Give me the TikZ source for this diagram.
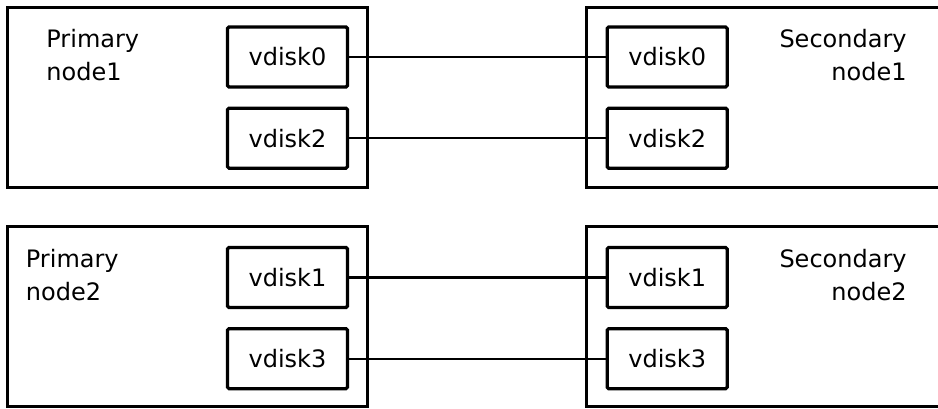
\documentclass[tikz,border=0pt]{standalone}
\usepackage{fontspec}
\setmainfont{DejaVu Sans}
\usetikzlibrary{positioning}

\begin{document}
\begin{tikzpicture}[x=0.5pt, y=-0.5pt, node distance=9pt,
    font=\fontsize{12pt}{16.5pt}\selectfont,
    host/.style={draw, line width=1.6pt, minimum width=180pt, minimum height=90pt, inner sep=0pt},
    vdisk/.style={draw, line width=1.6pt, rounded corners=0.75pt, minimum width=60pt, minimum height=30pt, inner sep=0pt},
    hostname/.style={inner sep=0pt},
    link/.style={line width=1.2pt}]
  \useasboundingbox (0,0) rectangle (938,408);
  \clip (0,0) rectangle (938,408);

  % hosts
  \node[host] (prim1) at (187.5,97.25) {};
  \node[host, below=18pt of prim1] (prim2) {};
  \node[host, right=108pt of prim1] (sec1) {};
  \node[host, below=18pt of sec1] (sec2) {};

  \node[hostname, anchor=north west, align=left] (prim1name) at (46,28.5) {Primary\\node1};
  \node[hostname, anchor=north west, align=left] (prim2name) at (25.5,249) {Primary\\node2};
  \node[hostname, anchor=north east, align=right] (sec1name) at (907,28.5) {Secondary\\node1};
  \node[hostname, anchor=north east, align=right] (sec2name) at (907,249) {Secondary\\node2};

  % disks
  \node[vdisk] (p1d0) at (287.5,57) {vdisk0};
  \node[vdisk, below=of p1d0] (p1d2) {vdisk2};
  \node[vdisk, right=128.25pt of p1d0] (s1d0) {vdisk0};
  \node[vdisk, below=of s1d0] (s1d2) {vdisk2};
  \node[vdisk] (p2d1) at (287.5,277.5) {vdisk1};
  \node[vdisk, below=of p2d1] (p2d3) {vdisk3};
  \node[vdisk, right=128.25pt of p2d1] (s2d1) {vdisk1};
  \node[vdisk, below=of s2d1] (s2d3) {vdisk3};

  \draw[link] (p1d0) -- (s1d0);
  \draw[link] (p1d2) -- (s1d2);
  \draw[link] (p2d1) -- (s2d1);
  \draw[link] (p2d3) -- (s2d3);
\end{tikzpicture}
\end{document}
